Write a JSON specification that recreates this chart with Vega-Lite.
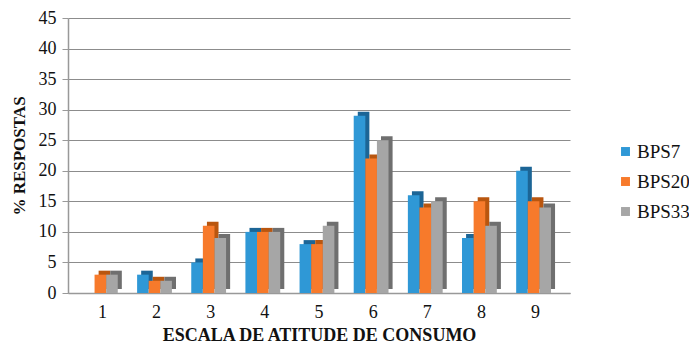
{
  "$schema": "https://vega.github.io/schema/vega-lite/v6.json",
  "autosize": "none",
  "width": 502,
  "height": 275,
  "padding": {"left": 68, "top": 18, "right": 119, "bottom": 54},
  "background": "white",
  "data": {
    "values": [
      {"escala": "1", "serie": "BPS7", "pct": 0},
      {"escala": "1", "serie": "BPS20", "pct": 3},
      {"escala": "1", "serie": "BPS33", "pct": 3},
      {"escala": "2", "serie": "BPS7", "pct": 3},
      {"escala": "2", "serie": "BPS20", "pct": 2},
      {"escala": "2", "serie": "BPS33", "pct": 2},
      {"escala": "3", "serie": "BPS7", "pct": 5},
      {"escala": "3", "serie": "BPS20", "pct": 11},
      {"escala": "3", "serie": "BPS33", "pct": 9},
      {"escala": "4", "serie": "BPS7", "pct": 10},
      {"escala": "4", "serie": "BPS20", "pct": 10},
      {"escala": "4", "serie": "BPS33", "pct": 10},
      {"escala": "5", "serie": "BPS7", "pct": 8},
      {"escala": "5", "serie": "BPS20", "pct": 8},
      {"escala": "5", "serie": "BPS33", "pct": 11},
      {"escala": "6", "serie": "BPS7", "pct": 29},
      {"escala": "6", "serie": "BPS20", "pct": 22},
      {"escala": "6", "serie": "BPS33", "pct": 25},
      {"escala": "7", "serie": "BPS7", "pct": 16},
      {"escala": "7", "serie": "BPS20", "pct": 14},
      {"escala": "7", "serie": "BPS33", "pct": 15},
      {"escala": "8", "serie": "BPS7", "pct": 9},
      {"escala": "8", "serie": "BPS20", "pct": 15},
      {"escala": "8", "serie": "BPS33", "pct": 11},
      {"escala": "9", "serie": "BPS7", "pct": 20},
      {"escala": "9", "serie": "BPS20", "pct": 15},
      {"escala": "9", "serie": "BPS33", "pct": 14}
    ]
  },
  "encoding": {
    "x": {
      "field": "escala",
      "type": "ordinal",
      "scale": {"paddingInner": 0.25, "paddingOuter": 0.26},
      "axis": {
        "title": "ESCALA DE ATITUDE DE CONSUMO",
        "titleFont": "Liberation Serif",
        "titleFontSize": 18,
        "titleFontWeight": "bold",
        "titleColor": "#111",
        "titlePadding": 5,
        "labelFont": "Liberation Serif",
        "labelFontSize": 18,
        "labelColor": "#111",
        "labelAngle": 0,
        "labelPadding": 10,
        "ticks": false,
        "domainColor": "#999",
        "domainWidth": 1.5
      }
    },
    "y": {
      "field": "pct",
      "type": "quantitative",
      "scale": {"domain": [0, 45]},
      "axis": {
        "title": "% RESPOSTAS",
        "titleFont": "Liberation Serif",
        "titleFontSize": 17,
        "titleFontWeight": "bold",
        "titleColor": "#111",
        "titlePadding": 10,
        "labelFont": "Liberation Serif",
        "labelFontSize": 18,
        "labelColor": "#111",
        "labelPadding": 6,
        "values": [0, 5, 10, 15, 20, 25, 30, 35, 40, 45],
        "tickColor": "#999",
        "tickSize": 6,
        "gridColor": "#8c8c8c",
        "gridWidth": 1.2,
        "domainColor": "#999",
        "domainWidth": 1.5
      }
    }
  },
  "layer": [
    {
      "mark": {"type": "bar", "yOffset": -4},
      "encoding": {
        "xOffset": {
          "field": "serie",
          "type": "nominal",
          "sort": ["BPS7", "BPS20", "BPS33"],
          "scale": {"paddingInner": 0, "paddingOuter": 0.25, "align": 0.85}
        },
        "fill": {
          "field": "serie",
          "type": "nominal",
          "scale": {"domain": ["BPS7", "BPS20", "BPS33"], "range": ["#1c6596", "#b9560f", "#6f6f6f"]},
          "legend": null
        }
      }
    },
    {
      "mark": {"type": "bar"},
      "encoding": {
        "xOffset": {
          "field": "serie",
          "type": "nominal",
          "sort": ["BPS7", "BPS20", "BPS33"],
          "scale": {"paddingInner": 0, "paddingOuter": 0.25, "align": 0.15}
        },
        "color": {
          "field": "serie",
          "type": "nominal",
          "scale": {"domain": ["BPS7", "BPS20", "BPS33"], "range": ["#2f98d6", "#f77a2b", "#a6a6a6"]},
          "legend": {
            "title": null,
            "orient": "none",
            "legendX": 548,
            "legendY": 124,
            "symbolType": "square",
            "symbolSize": 80,
            "symbolStrokeWidth": 0,
            "rowPadding": 10,
            "labelOffset": 2,
            "labelLimit": 120
          }
        }
      }
    }
  ],
  "resolve": {
    "scale": {"xOffset": "independent", "color": "independent", "fill": "independent"},
    "legend": {"color": "independent", "fill": "independent"}
  },
  "config": {
    "view": {"stroke": null},
    "font": "Liberation Serif",
    "legend": {"labelFont": "Liberation Serif", "labelFontSize": 19, "labelColor": "#111"}
  }
}
